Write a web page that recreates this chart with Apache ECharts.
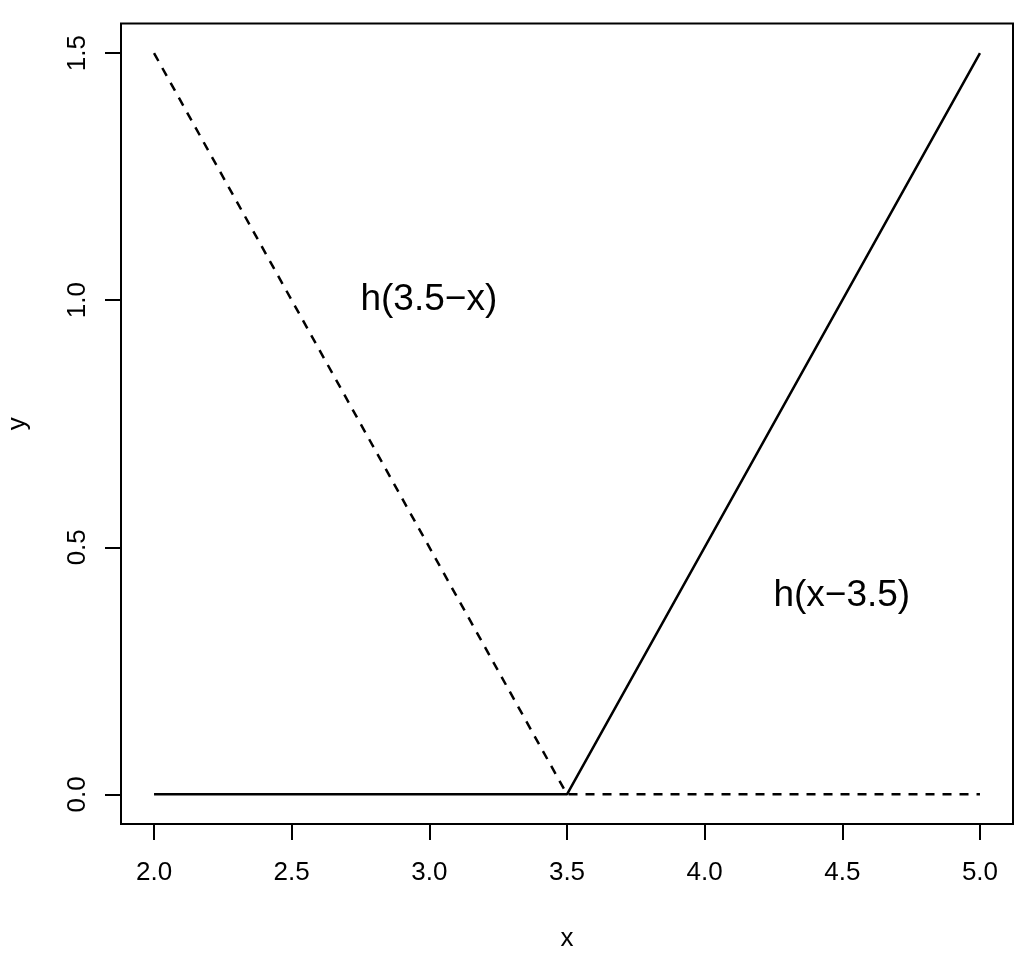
<!DOCTYPE html>
<html>
<head>
<meta charset="utf-8">
<script src="https://cdn.jsdelivr.net/npm/echarts@6/dist/echarts.min.js"></script>
<style>html,body{margin:0;padding:0;background:#fff;}#c{width:1024px;height:963px;}</style>
</head>
<body>
<div id="c"></div>
<script>
var xValues = [2, 3.5, 5];
var hLeft = [1.5, 0, 0];     // h(3.5-x), dashed
var hRight = [0, 0, 1.5];    // h(x-3.5), solid
var xTicks = [2, 2.5, 3, 3.5, 4, 4.5, 5];
var yTicks = [0, 0.5, 1, 1.5];
var annotations = [
  {x: 3, y: 1.0, text: 'h(3.5\u2212x)'},
  {x: 4.5, y: 0.4, text: 'h(x\u22123.5)'}
];

var font = 'Liberation Sans, Arial, sans-serif';
var chart = echarts.init(document.getElementById('c'), null, {renderer: 'canvas'});
function pairs(xs, ys) { return xs.map(function (x, i) { return [x, ys[i]]; }); }

chart.setOption({
  animation: false,
  backgroundColor: '#fff',
  grid: {left: 121, right: 11, top: 23.5, bottom: 139, show: true, borderColor: '#000', borderWidth: 2,
    backgroundColor: 'transparent', containLabel: false, outerBoundsMode: 'none'},
  xAxis: {
    type: 'value', min: 1.88, max: 5.12,
    name: 'x', nameLocation: 'middle', nameGap: 102,
    nameTextStyle: {fontFamily: font, fontSize: 26, color: '#000'},
    axisLine: {show: false, onZero: false},
    splitLine: {show: false},
    axisTick: {show: true, length: 16, lineStyle: {color: '#000', width: 2}, customValues: xTicks},
    axisLabel: {show: true, margin: 36, fontFamily: font, fontSize: 26, color: '#000', customValues: xTicks,
      formatter: function (v) { return v.toFixed(1); }}
  },
  yAxis: {
    type: 'value', min: -0.06, max: 1.56,
    name: 'y', nameLocation: 'middle', nameGap: 90,
    nameTextStyle: {fontFamily: font, fontSize: 26, color: '#000'},
    axisLine: {show: false, onZero: false},
    splitLine: {show: false},
    axisTick: {show: true, length: 16, lineStyle: {color: '#000', width: 2}, customValues: yTicks},
    axisLabel: {show: true, rotate: 90, margin: 30, fontFamily: font, fontSize: 26, color: '#000', customValues: yTicks,
      formatter: function (v) { return v.toFixed(1); }}
  },
  series: [
    {type: 'line', data: pairs(xValues, hLeft), symbol: 'none', lineStyle: {color: '#000', width: 2.5, type: [9, 8]}},
    {type: 'line', data: pairs(xValues, hRight), symbol: 'none', lineStyle: {color: '#000', width: 2.5, type: 'solid'}},
    {type: 'scatter', symbolSize: 1, itemStyle: {opacity: 0}, silent: true,
      data: annotations.map(function (a) { return {value: [a.x, a.y], name: a.text}; }),
      label: {show: true, position: [0, 0], align: 'center', verticalAlign: 'middle',
        formatter: function (p) { return p.name; },
        fontFamily: font, fontSize: 37, color: '#000', opacity: 1, textBorderWidth: 0}}
  ]
});
</script>
</body>
</html>
